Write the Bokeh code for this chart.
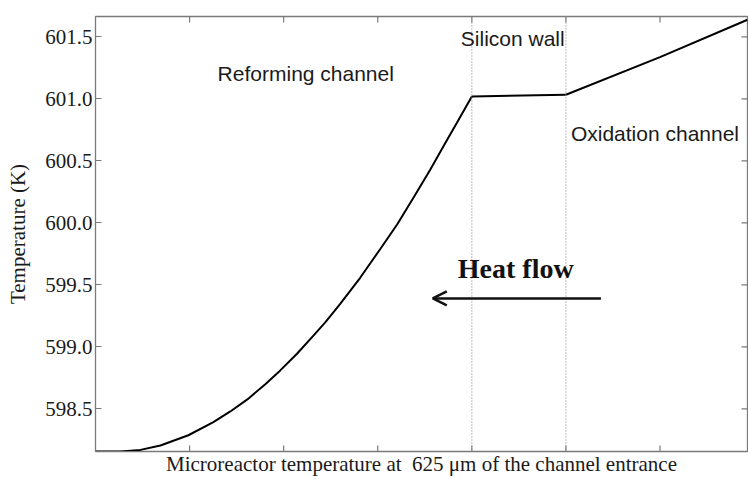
import math
from bokeh.plotting import figure
from bokeh.models import Range1d, FixedTicker, Span, Label, Arrow, OpenHead
from bokeh.embed import file_html
from bokeh.resources import INLINE

# ---- data (position across the microreactor, arbitrary units; temperature in K)
reforming_x = [0.0, 0.265, 0.478, 0.690, 0.987, 1.253, 1.433, 1.614, 1.805, 1.964, 2.144,
               2.314, 2.442, 2.601, 2.813, 3.025, 3.206, 3.397, 3.556, 3.715, 3.843, 4.0]
reforming_t = [598.157, 598.157, 598.170, 598.205, 598.288, 598.394, 598.480, 598.577,
               598.700, 598.811, 598.947, 599.090, 599.198, 599.347, 599.558, 599.788,
               599.988, 600.226, 600.428, 600.640, 600.810, 601.020]
wall_x = [4.0, 5.0]
wall_t = [601.020, 601.034]
oxidation_x = [5.0, 6.0, 6.93]
oxidation_t = [601.034, 601.337, 601.639]
boundaries = [4.0, 5.0]
x_ticks = [1, 2, 3, 4, 5, 6]
y_ticks = [598.5, 599.0, 599.5, 600.0, 600.5, 601.0, 601.5]
y_labels = ["598.5", "599.0", "599.5", "600.0", "600.5", "601.0", "601.5"]
x_min, x_max = 0.0, 6.93
y_min, y_max = 598.157, 601.665

AX = "#7a7a7a"
SERIF = "Liberation Serif"
SANS = "Liberation Sans"
TXT = "#1a1a1a"

p = figure(width=748, height=479, x_range=Range1d(x_min, x_max), y_range=Range1d(y_min, y_max),
           output_backend="svg", toolbar_location=None,
           min_border_left=95, min_border_top=16, min_border_bottom=28, min_border_right=1)
p.xgrid.visible = False
p.ygrid.visible = False
p.outline_line_color = AX
p.outline_line_width = 1.3
p.background_fill_color = "white"
p.border_fill_color = "white"

# bottom axis: title only (ticks drawn inside the frame below)
xa = p.xaxis[0]
xa.ticker = FixedTicker(ticks=[])
xa.major_label_standoff = 0
xa.major_tick_in = 0
xa.major_tick_out = 0
xa.minor_tick_in = 0
xa.minor_tick_out = 0
xa.axis_line_color = AX
xa.axis_label = "Microreactor temperature at\u00a0 625 \u03bcm of the channel entrance"
xa.axis_label_text_font = SERIF
xa.axis_label_text_font_style = "normal"
xa.axis_label_text_font_size = "21px"
xa.axis_label_text_color = TXT
xa.axis_label_standoff = 0

# left axis
ya = p.yaxis[0]
ya.ticker = FixedTicker(ticks=y_ticks)
ya.major_label_overrides = {t: l for t, l in zip(y_ticks, y_labels)}
ya.major_label_text_font = SERIF
ya.major_label_text_font_size = "21px"
ya.major_label_text_color = TXT
ya.major_label_standoff = 3
ya.major_tick_in = 6
ya.major_tick_out = 0
ya.minor_tick_in = 0
ya.minor_tick_out = 0
ya.axis_line_color = AX
ya.major_tick_line_color = AX
ya.axis_label = "Temperature (K)"
ya.axis_label_text_font = SERIF
ya.axis_label_text_font_style = "normal"
ya.axis_label_text_font_size = "21px"
ya.axis_label_text_color = TXT
ya.axis_label_standoff = 12

# inward frame ticks on bottom, top and right (half of each dash is clipped by the frame)
p.scatter(x=x_ticks, y=[y_min] * len(x_ticks), marker="dash", size=12, angle=math.pi / 2,
          line_color=AX, line_width=1.2)
p.scatter(x=x_ticks, y=[y_max] * len(x_ticks), marker="dash", size=12, angle=math.pi / 2,
          line_color=AX, line_width=1.2)
p.scatter(x=[x_max] * len(y_ticks), y=y_ticks, marker="dash", size=12,
          line_color=AX, line_width=1.2)

# boundaries (dotted)
for b in boundaries:
    p.add_layout(Span(location=b, dimension="height", line_color="#8c8c8c",
                      line_dash="1 2", line_width=1.2))

# temperature profile
p.line(reforming_x, reforming_t, line_color="black", line_width=2)
p.line(wall_x, wall_t, line_color="black", line_width=2)
p.line(oxidation_x, oxidation_t, line_color="black", line_width=2)

# region labels
p.add_layout(Label(x=1.298, y=601.206, text="Reforming channel", text_font=SANS,
                   text_font_size="21px", text_color=TXT, text_baseline="alphabetic"))
p.add_layout(Label(x=3.883, y=601.488, text="Silicon wall", text_font=SANS,
                   text_font_size="21px", text_color=TXT, text_baseline="alphabetic"))
p.add_layout(Label(x=5.053, y=600.719, text="Oxidation channel", text_font=SANS,
                   text_font_size="21px", text_color=TXT, text_baseline="alphabetic"))
p.add_layout(Label(x=3.851, y=599.630, text="Heat flow", text_font=SERIF,
                   text_font_style="bold", text_font_size="28px", text_color="#111111",
                   text_baseline="alphabetic"))
p.add_layout(Arrow(end=OpenHead(size=14, line_width=2.5, line_color="#111111"),
                   x_start=5.372, y_start=599.391, x_end=3.585, y_end=599.391,
                   line_width=2.5, line_color="#111111"))

open("out.html", "w").write(file_html(p, INLINE))
